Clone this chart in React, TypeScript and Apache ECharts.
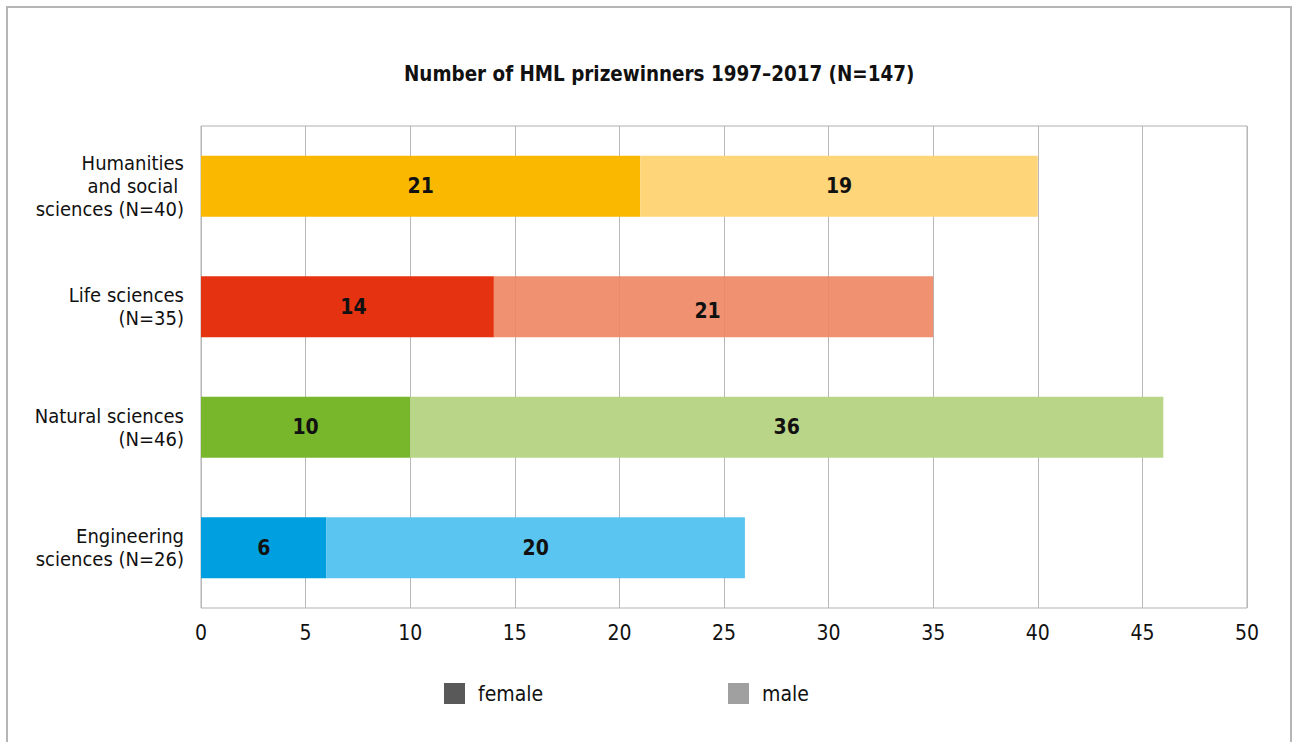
import React, { useEffect, useRef } from "react";
import * as echarts from "echarts";

const categories = [
  "Humanities\nand social \nsciences (N=40)",
  "Life sciences\n(N=35)",
  "Natural sciences\n(N=46)",
  "Engineering\nsciences (N=26)",
];
const femaleValues = [21, 14, 10, 6];
const maleValues = [19, 21, 36, 20];
const femaleColors = ["#FAB900", "#E53312", "#78B72B", "#009FE0"];
const maleColors = ["#FFD579", "rgba(238,134,99,0.9)", "#B9D688", "#5BC5F1"];
const xTicks = { min: 0, max: 50, interval: 5 };

const FONT = "'Liberation Sans Narrow', 'DejaVu Sans Condensed', 'Open Sans', sans-serif";

export default function App() {
  const ref = useRef<HTMLDivElement>(null);
  useEffect(() => {
    if (!ref.current) return;
    const chart = echarts.init(ref.current, undefined, { renderer: "svg" });
    const labelStyle = {
      show: true,
      position: "inside",
      color: "#111",
      fontSize: 21,
      fontWeight: "bold",
      fontFamily: FONT,
    };
    const legendText = { fontSize: 21, color: "#111", fontFamily: FONT, padding: [0, 0, 0, 8] };
    chart.setOption({
      animation: false,
      backgroundColor: "#fff",
      textStyle: { fontFamily: FONT },
      title: {
        text: "Number of HML prizewinners 1997–2017 (N=147)",
        left: 404,
        top: 64,
        padding: 0,
        textStyle: { fontSize: 20.4, fontWeight: "bold", color: "#111", fontFamily: FONT },
      },
      graphic: [
        {
          type: "rect",
          shape: { x: 7, y: 7, width: 1284, height: 760 },
          style: { fill: "none", stroke: "#b5b5b5", lineWidth: 2 },
          silent: true,
        },
      ],
      legend: [
        {
          data: ["female"],
          left: 444,
          top: 683,
          padding: 0,
          itemWidth: 21,
          itemHeight: 21,
          icon: "rect",
          textStyle: legendText,
        },
        {
          data: ["male"],
          left: 728,
          top: 683,
          padding: 0,
          itemWidth: 21,
          itemHeight: 21,
          icon: "rect",
          textStyle: legendText,
        },
      ],
      grid: {
        left: 201,
        right: 45,
        top: 126,
        bottom: 134,
        show: true,
        borderColor: "#b0b0b0",
        borderWidth: 1,
        containLabel: false,
      },
      xAxis: {
        type: "value",
        min: xTicks.min,
        max: xTicks.max,
        interval: xTicks.interval,
        axisLine: { show: false },
        axisTick: { show: false },
        splitLine: { show: true, lineStyle: { color: "#b8b8b8", width: 1 } },
        axisLabel: { fontSize: 21, color: "#111", margin: 14, fontFamily: FONT },
      },
      yAxis: {
        type: "category",
        data: categories,
        inverse: true,
        axisLine: { show: false },
        axisTick: { show: false },
        splitLine: { show: false },
        axisLabel: {
          fontSize: 20,
          lineHeight: 23,
          color: "#111",
          margin: 17,
          align: "right",
          fontFamily: FONT,
        },
      },
      series: [
        {
          name: "female",
          type: "bar",
          stack: "total",
          barWidth: 61,
          itemStyle: { color: "#595959" },
          label: labelStyle,
          data: femaleValues.map((v, i) => ({
            value: v,
            itemStyle: { color: femaleColors[i] },
            label: i === 1 ? { offset: [6, 0] } : undefined,
          })),
        },
        {
          name: "male",
          type: "bar",
          stack: "total",
          barWidth: 61,
          itemStyle: { color: "#a0a0a0" },
          label: labelStyle,
          data: maleValues.map((v, i) => ({
            value: v,
            itemStyle: { color: maleColors[i] },
            label: i === 1 ? { offset: [-6, 4] } : undefined,
          })),
        },
      ],
    });
    return () => chart.dispose();
  }, []);
  return (
    <div
      ref={ref}
      style={{ position: "absolute", left: 0, top: 0, width: 1292, height: 742 }}
    />
  );
}
